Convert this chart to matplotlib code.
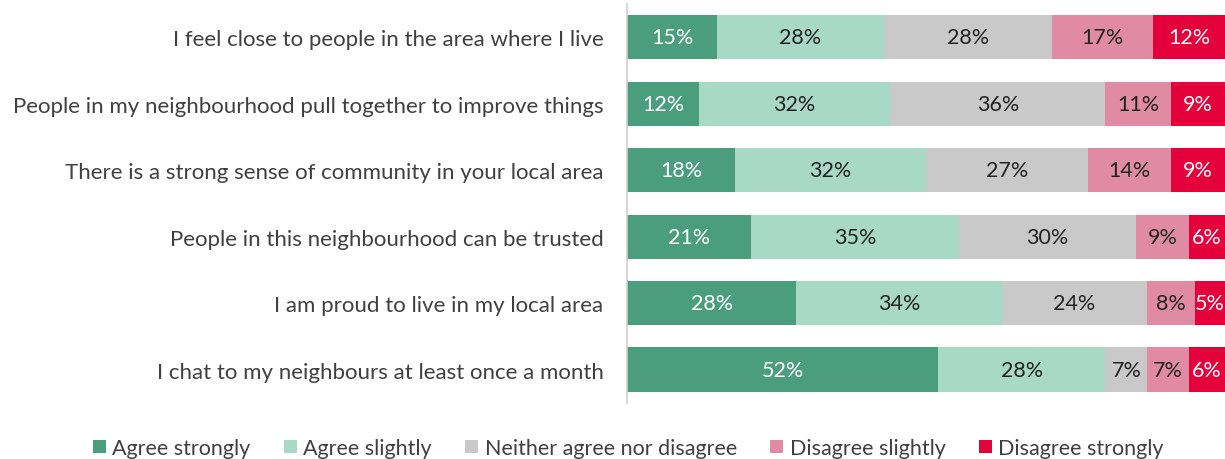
import numpy as np
import matplotlib.pyplot as plt
from matplotlib.patches import Patch

plt.rcParams['font.family'] = ['Lato', 'DejaVu Sans']

categories = [
    "I feel close to people in the area where I live",
    "People in my neighbourhood pull together to improve things",
    "There is a strong sense of community in your local area",
    "People in this neighbourhood can be trusted",
    "I am proud to live in my local area",
    "I chat to my neighbours at least once a month",
]
series_names = ["Agree strongly", "Agree slightly", "Neither agree nor disagree",
                "Disagree slightly", "Disagree strongly"]
agree_strongly = [15, 12, 18, 21, 28, 52]
agree_slightly = [28, 32, 32, 35, 34, 28]
neither = [28, 36, 27, 30, 24, 7]
disagree_slightly = [17, 11, 14, 9, 8, 7]
disagree_strongly = [12, 9, 9, 6, 5, 6]

colors = ["#4a9e7e", "#a8d8c6", "#c9c9c9", "#e08ba3", "#e4003b"]
text_colors = ["white", "#222222", "#222222", "#222222", "white"]

values = np.array([agree_strongly, agree_slightly, neither,
                   disagree_slightly, disagree_strongly], dtype=float)
# 100% stacked: scale each row to its total
shares = values / values.sum(axis=0) * 100

fig = plt.figure(figsize=(12.25, 4.6), dpi=100)
ax = fig.add_axes([0.512, 0.122, 0.488, 0.867])

y = np.arange(len(categories))
left = np.zeros(len(categories))
for i, name in enumerate(series_names):
    bars = ax.barh(y, shares[i], left=left, height=0.667, color=colors[i],
                   edgecolor="none", label=name)
    for j, b in enumerate(bars):
        cx = left[j] + shares[i][j] / 2
        ax.text(cx, y[j], f"{int(values[i][j])}%", ha="center", va="center",
                fontsize=15.5, color=text_colors[i])
    left += shares[i]

ax.set_xlim(0, 100)
ax.set_ylim(len(categories) - 0.5, -0.5)
ax.set_yticks(y)
ax.set_yticklabels(categories, fontsize=16, color="#404040")
ax.tick_params(axis="y", length=0, pad=17)
ax.set_xticks([])
for s in ["top", "right", "bottom"]:
    ax.spines[s].set_visible(False)
ax.spines["left"].set_color("#d0d0d0")
ax.spines["left"].set_linewidth(1.2)

handles = [Patch(facecolor=c, edgecolor="none") for c in colors]
fig.legend(handles, series_names, loc="center", bbox_to_anchor=(0.513, 0.024),
           ncol=5, frameon=False, fontsize=15.5, handlelength=0.6, handleheight=0.6,
           handletextpad=0.3, columnspacing=1.55, labelcolor="#404040")

fig.savefig("out.png", dpi=100)
